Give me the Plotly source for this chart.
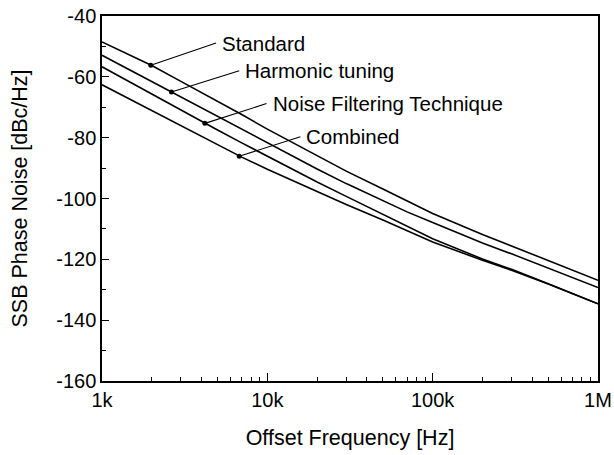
import numpy as np
import plotly.graph_objects as go

# ---- data ----
freq_hz = [1e3, 2e3, 3e3, 5e3, 7e3, 1e4, 2e4, 3e4, 5e4, 7e4, 1e5, 2e5, 3e5, 5e5, 7e5, 1e6]
standard = [-48.5, -56.3, -61.5, -68.0, -72.4, -77.2, -86.0, -91.0, -96.9, -100.8,
            -104.9, -111.8, -115.6, -120.2, -123.6, -126.9]
harmonic = [-52.9, -61.6, -66.6, -73.0, -77.2, -81.7, -90.3, -95.1, -100.6, -104.4,
            -107.9, -114.6, -118.2, -122.8, -126.0, -129.3]
noise_filter = [-56.7, -65.7, -71.0, -77.5, -81.7, -86.1, -94.6, -99.3, -105.1, -109.0,
                -113.2, -119.9, -123.3, -128.0, -131.3, -134.6]
combined = [-62.6, -71.1, -76.1, -82.4, -86.4, -90.4, -97.8, -102.0, -107.1, -110.6,
            -114.3, -120.3, -123.6, -128.1, -131.3, -134.6]

series_names = ["Standard", "Harmonic tuning", "Noise Filtering Technique", "Combined"]
series_values = [standard, harmonic, noise_filter, combined]

# label dots on each curve
dot_freq = [1973, 2632, 4190, 6760]
dot_val = [-56.2, -65.0, -75.3, -86.1]

x_tick_vals = [1e3, 1e4, 1e5, 1e6]
x_tick_text = ["1k", "10k", "100k", "1M"]
y_tick_vals = [-40, -60, -80, -100, -120, -140, -160]
y_tick_text = ["-40", "-60", "-80", "-100", "-120", "-140", "-160"]

# label leader tail positions (log10 f, dB)
label_tail_logf = [3.69, 3.83, 3.995, 4.20]
label_tail_val = [-48.9, -58.0, -68.8, -79.7]

FONT = "Liberation Sans, Arial, sans-serif"

fig = go.Figure()
for name, vals in zip(series_names, series_values):
    fig.add_trace(go.Scatter(x=freq_hz, y=vals, mode="lines", name=name,
                             line=dict(color="black", width=1.6), showlegend=False,
                             hoverinfo="skip"))

fig.add_trace(go.Scatter(x=dot_freq, y=dot_val, mode="markers",
                         marker=dict(color="black", size=5), showlegend=False,
                         hoverinfo="skip"))

for name, f, v, tx, ty in zip(series_names, dot_freq, dot_val, label_tail_logf, label_tail_val):
    fig.add_annotation(x=np.log10(f), y=v, xref="x", yref="y",
                       ax=tx, ay=ty, axref="x", ayref="y",
                       text=name, showarrow=True, arrowhead=0, arrowwidth=1.1,
                       arrowcolor="black", xanchor="left", yanchor="middle",
                       borderpad=5,
                       font=dict(family=FONT, size=20.5, color="black"))

minor_x = [m * d for d in (1e3, 1e4, 1e5) for m in range(2, 10)]

fig.update_xaxes(type="log", range=[3, 6], tickmode="array",
                 tickvals=x_tick_vals, ticktext=x_tick_text, automargin=False,
                 ticks="inside", ticklen=8, tickwidth=1.3, tickcolor="black",
                 minor=dict(tickmode="array", tickvals=minor_x, ticks="inside",
                            ticklen=4, tickwidth=1.1, tickcolor="black", showgrid=False),
                 showline=True, linecolor="black", linewidth=1.5, mirror=True,
                 showgrid=False, zeroline=False,
                 tickfont=dict(family=FONT, size=20, color="black"),
                 title=dict(text="Offset Frequency [Hz]", standoff=20,
                            font=dict(family=FONT, size=21.5, color="black")))

fig.update_yaxes(range=[-160, -40], tickmode="array", tickvals=y_tick_vals,
                 ticktext=y_tick_text, automargin=False,
                 ticks="inside", ticklen=7, tickwidth=1.3, tickcolor="black",
                 minor=dict(dtick=10, ticks="inside", ticklen=4, tickwidth=1.1,
                            tickcolor="black", showgrid=False),
                 showline=True, linecolor="black", linewidth=1.5, mirror=True,
                 showgrid=False, zeroline=False,
                 tickfont=dict(family=FONT, size=20, color="black"),
                 title=dict(text="SSB Phase Noise [dBc/Hz]", standoff=23,
                            font=dict(family=FONT, size=21.5, color="black")))

fig.update_layout(width=614, height=455, margin=dict(l=102, r=16, t=16, b=74),
                  paper_bgcolor="white", plot_bgcolor="white")

fig.write_html("out.html")
